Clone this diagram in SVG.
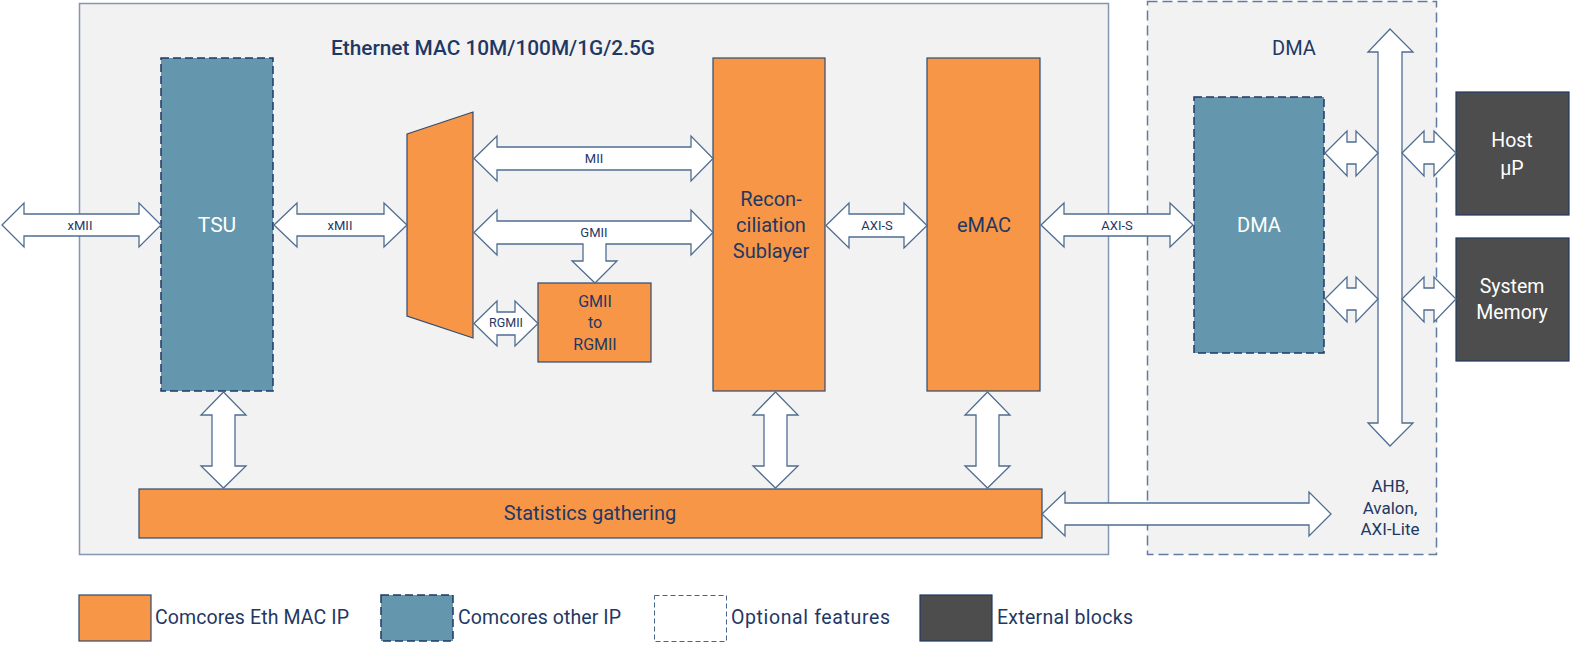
<svg xmlns="http://www.w3.org/2000/svg" width="1571" height="646" viewBox="0 0 1571 646">
<style>
text{font-family:Roboto,"Liberation Sans",sans-serif;fill:#1F3864;text-anchor:middle}
.w{fill:#FFFFFF}
.lbl{font-size:13px}
.big{font-size:20px}
.leg{font-size:19.5px;text-anchor:start}
.orange{fill:#F79646;stroke:#2F4A70;stroke-width:1.2}
.teal{fill:#6497AD;stroke:#1F3864;stroke-width:1.5;stroke-dasharray:8 4}
.dark{fill:#4D4D4D;stroke:#1F3864;stroke-width:1.2}
.arr{fill:#FFFFFF;stroke:#4F6D92;stroke-width:1.3;stroke-linejoin:miter}
</style>
<rect width="1571" height="646" fill="#FFFFFF"/>
<g id="ethernet-mac">
<rect x="79.5" y="3.5" width="1029" height="551" fill="#F2F2F2" stroke="#8497B0" stroke-width="1.5"/>
<text x="493" y="55" style="font-size:20px;font-weight:500" textLength="324" lengthAdjust="spacingAndGlyphs">Ethernet MAC 10M/100M/1G/2.5G</text>
</g>
<g id="dma-region">
<rect x="1147.5" y="1.5" width="289" height="553" fill="#F2F2F2" stroke="#5F7CA0" stroke-width="1.5" stroke-dasharray="10 5"/>
<text x="1294" y="55" class="big">DMA</text>
</g>
<g id="tsu">
<rect x="161" y="58" width="112" height="333" class="teal"/>
<text x="217" y="232" class="w" style="font-size:21px">TSU</text>
</g>
<g id="mux">
<polygon points="407,134 473,112 473,338 407,316" class="orange"/>
</g>
<g id="gmii-to-rgmii">
<rect x="538" y="283" width="113" height="79" class="orange"/>
<text x="595" y="307" style="font-size:16px">GMII</text>
<text x="595" y="328" style="font-size:16px">to</text>
<text x="595" y="350" style="font-size:16px">RGMII</text>
</g>
<g id="reconciliation">
<rect x="713" y="58" width="112" height="333" class="orange"/>
<text x="771" y="206" class="big">Recon-</text>
<text x="771" y="232" class="big">ciliation</text>
<text x="771" y="258" class="big">Sublayer</text>
</g>
<g id="emac">
<rect x="927" y="58" width="113" height="333" class="orange"/>
<text x="984" y="232" class="big">eMAC</text>
</g>
<g id="dma">
<rect x="1194" y="97" width="130" height="256" class="teal"/>
<text x="1259" y="232" class="big w">DMA</text>
</g>
<g id="host">
<rect x="1456" y="92" width="113" height="123" class="dark"/>
<text x="1512" y="147" class="w" style="font-size:19.5px">Host</text>
<text x="1512" y="175" class="w" style="font-size:19.5px">µP</text>
</g>
<g id="system-memory">
<rect x="1456" y="238" width="113" height="123" class="dark"/>
<text x="1512" y="293" class="w" style="font-size:19.5px">System</text>
<text x="1512" y="319" class="w" style="font-size:19.5px">Memory</text>
</g>
<g id="statistics">
<rect x="139" y="489" width="903" height="49" class="orange"/>
<text x="590" y="520" class="big">Statistics gathering</text>
</g>
<g id="connectors">
<path class="arr" d="M2,225 L24,203 L24,214 L139,214 L139,203 L161,225 L139,247 L139,236 L24,236 L24,247 Z"/>
<text x="80" y="229.5" class="lbl">xMII</text>
<path class="arr" d="M274,225 L297,203 L297,214 L384,214 L384,203 L407,225 L384,247 L384,236 L297,236 L297,247 Z"/>
<text x="340" y="229.5" class="lbl">xMII</text>
<path class="arr" d="M474,158.5 L497,136 L497,147 L691,147 L691,136 L713,158.5 L691,181 L691,170 L497,170 L497,181 Z"/>
<text x="594" y="163" class="lbl">MII</text>
<path class="arr" d="M474,232.5 L497,210 L497,221 L691,221 L691,210 L713,232.5 L691,255 L691,244 L606,244 L606,261 L617,261 L595,283 L572,261 L583,261 L583,244 L497,244 L497,255 Z"/>
<text x="594" y="237" class="lbl">GMII</text>
<path class="arr" d="M474,323.5 L497,301 L497,312 L515,312 L515,301 L538,323.5 L515,346 L515,335 L497,335 L497,346 Z"/>
<text x="506" y="327" style="font-size:12.5px">RGMII</text>
<path class="arr" d="M826,225.5 L849,203 L849,214 L904,214 L904,203 L927,225.5 L904,248 L904,237 L849,237 L849,248 Z"/>
<text x="877" y="230" class="lbl">AXI-S</text>
<path class="arr" d="M1041,225 L1064,203 L1064,214 L1170,214 L1170,203 L1193,225 L1170,247 L1170,236 L1064,236 L1064,247 Z"/>
<text x="1117" y="229.5" class="lbl">AXI-S</text>
<path class="arr" d="M1390,29 L1413,52 L1402,52 L1402,423 L1413,423 L1390,446 L1368,423 L1378,423 L1378,52 L1368,52 Z"/>
<path class="arr" d="M1325,153 L1347,131 L1347,142 L1356,142 L1356,131 L1378,153 L1356,176 L1356,164 L1347,164 L1347,176 Z"/>
<path class="arr" d="M1402,153 L1424,131 L1424,142 L1434,142 L1434,131 L1456,153 L1434,176 L1434,164 L1424,164 L1424,176 Z"/>
<path class="arr" d="M1325,299 L1347,277 L1347,288 L1356,288 L1356,277 L1378,299 L1356,322 L1356,310 L1347,310 L1347,322 Z"/>
<path class="arr" d="M1402,299 L1424,277 L1424,288 L1434,288 L1434,277 L1456,299 L1434,322 L1434,310 L1424,310 L1424,322 Z"/>
<path class="arr" d="M223.5,392 L246,415 L235,415 L235,466 L246,466 L223.5,488 L201,466 L212,466 L212,415 L201,415 Z"/>
<path class="arr" d="M775.5,392 L798,415 L787,415 L787,466 L798,466 L775.5,488 L753,466 L764,466 L764,415 L753,415 Z"/>
<path class="arr" d="M987.5,392 L1010,415 L999,415 L999,466 L1010,466 L987.5,488 L965,466 L976,466 L976,415 L965,415 Z"/>
<path class="arr" d="M1042,514 L1065,492 L1065,503 L1309,503 L1309,492 L1331,514 L1309,536 L1309,525 L1065,525 L1065,536 Z"/>
<text x="1390" y="492" style="font-size:17px">AHB,</text>
<text x="1390" y="514" style="font-size:17px">Avalon,</text>
<text x="1390" y="535" style="font-size:17px">AXI-Lite</text>
</g>
<g id="legend">
<rect x="79" y="595" width="72" height="46" class="orange"/>
<text x="155" y="624" class="leg" textLength="194">Comcores Eth MAC IP</text>
<rect x="381" y="595" width="72" height="46" class="teal"/>
<text x="458" y="624" class="leg" textLength="163">Comcores other IP</text>
<rect x="654.5" y="595.5" width="72" height="46" fill="#FFFFFF" stroke="#44648C" stroke-width="1" stroke-dasharray="5 3"/>
<text x="731" y="624" class="leg" textLength="159">Optional features</text>
<rect x="920" y="595" width="72" height="46" class="dark"/>
<text x="997" y="624" class="leg" textLength="136">External blocks</text>
</g>
</svg>
